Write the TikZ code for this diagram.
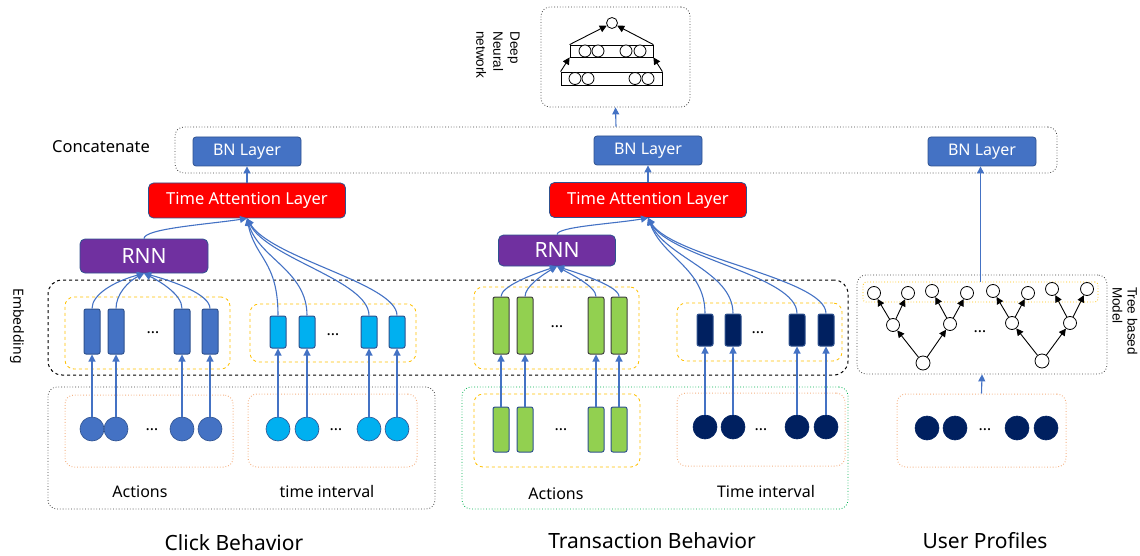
\documentclass[tikz,border=0pt]{standalone}
\usepackage{fontspec}
\setmainfont{Noto Sans}
\newfontfamily\arialfont{Liberation Sans}
\usetikzlibrary{arrows,arrows.meta,positioning}

\definecolor{lineblue}{HTML}{4472C4}
\definecolor{edgeblue}{HTML}{2F528F}
\definecolor{skyblue}{HTML}{00B0F0}
\definecolor{navyblue}{HTML}{002060}
\definecolor{leafgreen}{HTML}{92D050}
\definecolor{rnnpurple}{HTML}{7030A0}
\definecolor{dotorange}{HTML}{F4B183}
\definecolor{dashyellow}{HTML}{FFC000}
\definecolor{dotgreen}{HTML}{00B050}

\newcommand{\fsz}[1]{\fontsize{#1}{#1}\selectfont}

\tikzset{
  vec/.style={draw=edgeblue,line width=1pt,rounded corners=2pt,minimum width=16pt,inner sep=0pt},
  unit/.style={circle,draw=edgeblue,line width=0.6pt,minimum size=24pt,inner sep=0pt},
  neuron/.style={circle,draw,line width=0.8pt,fill=white,minimum size=12pt,inner sep=0pt},
  nnlayer/.style={rounded corners=3pt,draw=edgeblue,line width=0.8pt,text=white,inner sep=0pt},
  bn/.style={nnlayer,fill=lineblue,minimum width=108pt,minimum height=29pt,font=\fsz{16}},
  tal/.style={nnlayer,fill=red,rounded corners=5pt,minimum width=197pt,minimum height=35pt,font=\fsz{16.5}},
  rnn/.style={nnlayer,fill=rnnpurple,rounded corners=5pt,font=\fsz{21}},
  grp/.style={rounded corners=9pt,line width=0.8pt,inner sep=0pt},
  blackdot/.style={grp,draw=black!75,dotted},
  orangedot/.style={grp,draw=dotorange,dotted,line width=1pt},
  yellowdash/.style={grp,draw=dashyellow,dashed,line width=0.8pt},
  flow/.style={->,draw=lineblue,line width=1.1pt},
  dense/.style={->,line width=0.9pt},
  txt/.style={font=\fsz{16}},
}

\begin{document}
\begin{tikzpicture}[x=1pt,y=-1pt,>={Triangle[length=7pt,width=7pt]}]
\useasboundingbox (0,0) rectangle (1140,556);

% deep neural network
\node[blackdot,minimum width=149pt,minimum height=100pt] (dnn) at (615.5,57) {};
\node[rotate=-90,align=left,font=\arialfont\fontsize{13.5}{17}\selectfont] (dnnname) at (498,55) {Deep\\Neural\\network};
\node[draw,line width=0.8pt,inner sep=0pt,minimum width=83pt,minimum height=12pt] (hid2) at (611.5,51) {};
\node[draw,line width=0.8pt,inner sep=0pt,minimum width=101pt,minimum height=13pt] (hid1) at (611.5,78.5) {};
\foreach \x [count=\i] in {585,598,626,640} \node[neuron] (hb\i) at (\x,51) {};
\foreach \x [count=\i] in {575,588,635,648} \node[neuron] (ha\i) at (\x,78.5) {};
\node[neuron,minimum size=11pt] (out) at (612,23) {};
\draw[dense] (hid1.north west) -- (hid2.south west);
\draw[dense] (hid1.north east) -- (hid2.south east);
\draw[dense] (hid2.north west) -- (out);
\draw[dense] (hid2.north east) -- (out);

% concatenate
\node[blackdot,minimum width=882pt,minimum height=46pt] (concat) at (616,150) {};
\node[font=\fsz{16.5}] (concatname) at (101,147) {Concatenate};
\node[bn] (bn1) at (247,151.5) {BN Layer};
\node[bn] (bn2) at (648,150.5) {BN Layer};
\node[bn] (bn3) at (982,151.5) {BN Layer};
\draw[flow] (concat.north) -- (dnn.south);

\node[tal] (tal1) at (247,200.5) {Time Attention Layer};
\node[tal] (tal2) at (648,200) {Time Attention Layer};
\node[rnn,minimum width=128pt,minimum height=34pt] (rnn1) at (144,256) {RNN};
\node[rnn,minimum width=117pt,minimum height=31pt] (rnn2) at (557,250.5) {RNN};
\draw[flow] (tal1) -- (bn1);
\draw[flow] (tal2) -- (bn2);

% embedding
\node[grp,draw,dashed,line width=1pt,rounded corners=14pt,minimum width=800pt,minimum height=95pt] (embed) at (448,327.5) {};
\node[rotate=-90,font=\fsz{14}] (embedname) at (17,326) {Embedding};
\node[yellowdash,minimum width=165pt,minimum height=72pt] (caemb) at (147.5,333) {};
\node[yellowdash,minimum width=166pt,minimum height=58pt] (ctemb) at (333,333) {};
\node[yellowdash,minimum width=165pt,minimum height=82pt] (taemb) at (556.5,328) {};
\node[yellowdash,minimum width=165pt,minimum height=58pt] (ttemb) at (759.5,332) {};

% inputs
\node[blackdot,minimum width=387pt,minimum height=122pt] (click) at (241.5,448) {};
\node[orangedot,minimum width=168pt,minimum height=72pt] (cain) at (149,431) {};
\node[orangedot,minimum width=169pt,minimum height=73pt] (ctin) at (332.5,430.5) {};
\node[grp,draw=dotgreen,dotted,minimum width=386pt,minimum height=122pt] (trans) at (655,448) {};
\node[yellowdash,minimum width=166pt,minimum height=73pt] (tain) at (557,430.5) {};
\node[orangedot,minimum width=168pt,minimum height=73pt] (ttin) at (761,429.5) {};
\node[orangedot,minimum width=169pt,minimum height=73pt] (upin) at (981.5,430.5) {};

\foreach \x [count=\i] in {92,116,182,210} {
  \node[unit,fill=lineblue] (ca\i) at (\x,429) {};
  \node[vec,fill=lineblue,minimum height=45pt] (cae\i) at (\x,331.5) {};
  \draw[flow] (ca\i) -- (cae\i);
}
\foreach \x [count=\i] in {278,307,369,397} {
  \node[unit,fill=skyblue] (ct\i) at (\x,429) {};
  \node[vec,fill=skyblue,minimum height=32pt] (cte\i) at (\x,332) {};
  \draw[flow] (ct\i) -- (cte\i);
}
\foreach \x [count=\i] in {501,525,596,619} {
  \node[vec,fill=leafgreen,minimum height=45pt] (ta\i) at (\x,429.5) {};
  \node[vec,fill=leafgreen,draw=black!75,minimum height=57pt] (tae\i) at (\x,325.5) {};
  \draw[flow] (ta\i) -- (tae\i);
}
\foreach \x [count=\i] in {705,733,797,826} {
  \node[unit,fill=navyblue,draw=navyblue] (tt\i) at (\x,427) {};
  \node[vec,fill=navyblue,minimum height=32pt] (tte\i) at (\x,330) {};
  \draw[flow] (tt\i) -- (tte\i);
}
\foreach \x [count=\i] in {927,955,1017,1046}
  \node[unit,fill=navyblue,draw=navyblue] (up\i) at (\x,428) {};

% dots
\node[txt] (caedots) at (153,333) {\dots};
\node[txt] (ctedots) at (333,335) {\dots};
\node[txt] (taedots) at (557,327) {\dots};
\node[txt] (ttedots) at (758,333) {\dots};
\node[txt] (cadots) at (152,430) {\dots};
\node[txt] (ctdots) at (336,430) {\dots};
\node[txt] (tadots) at (561,430) {\dots};
\node[txt] (ttdots) at (761,430) {\dots};
\node[txt] (updots) at (985,430) {\dots};

% embedding -> rnn -> attention
\foreach \i/\dx in {1/-30,2/-16,3/16,4/30}
  \draw[flow] (cae\i.north) .. controls +(0,-14) and +(\dx,8) .. (rnn1.south);
\foreach \i/\up/\dx in {1/-55/8,2/-45/12,3/-35/20,4/-32/24}
  \draw[flow] (cte\i.north) .. controls +(0,\up) and +(\dx,40) .. (tal1.south);
\draw[flow] (rnn1.north) .. controls +(0,-10) and +(-40,6) .. (tal1.south);
\foreach \i/\dx in {1/-25,2/-14,3/14,4/25}
  \draw[flow] (tae\i.north) .. controls +(0,-10) and +(\dx,8) .. (rnn2.south);
\foreach \i/\up/\dx in {1/-45/15,2/-42/18,3/-38/22,4/-35/25}
  \draw[flow] (tte\i.north) .. controls +(0,\up) and +(\dx,40) .. (tal2.south);
\draw[flow] (rnn2.north) .. controls +(0,-8) and +(-35,6) .. (tal2.south);

% tree based model
\node[blackdot,minimum width=250pt,minimum height=99pt] (tree) at (982,324.5) {};
\node[grp,draw=dashyellow,dotted,rounded corners=3pt,minimum width=235pt,minimum height=20pt] (leafrow) at (980.5,292) {};
\node[rotate=-90,align=left,font=\arialfont\fontsize{13.5}{15}\selectfont] (treename) at (1125,321) {Tree based\\Model};
\foreach \x/\y [count=\i] in {874/293,908/293,932/291,967/293,993/291,1028/293,1052/289,1087/289}
  \node[neuron,minimum size=13pt] (lf\i) at (\x,\y) {};
\foreach \x/\y [count=\i] in {893/325,950/324,1012/323,1070/323}
  \node[neuron,minimum size=13pt] (md\i) at (\x,\y) {};
\node[neuron,minimum size=14pt] (rt1) at (923,363) {};
\node[neuron,minimum size=14pt] (rt2) at (1042,361) {};
\foreach \a/\b in {rt1/md1,rt1/md2,rt2/md3,rt2/md4,md1/lf1,md1/lf2,md2/lf3,md2/lf4,md3/lf5,md3/lf6,md4/lf7,md4/lf8}
  \draw[dense] (\a) -- (\b);
\node[txt] (treedots) at (980,332) {\dots};
\draw[flow] (leafrow.north) -- (leafrow.north |- bn3.south);
\draw[flow] (upin.north) -- (tree.south);

% captions
\node[txt] (caname) at (140,492) {Actions};
\node[txt] (ctname) at (327,491) {time interval};
\node[txt] (taname) at (556,494) {Actions};
\node[txt] (ttname) at (766,491) {Time interval};
\node[font=\fsz{21}] (clickname) at (234,543) {Click Behavior};
\node[font=\fsz{21}] (transname) at (652,541) {Transaction Behavior};
\node[font=\fsz{21}] (profname) at (985,541) {User Profiles};
\end{tikzpicture}
\end{document}
